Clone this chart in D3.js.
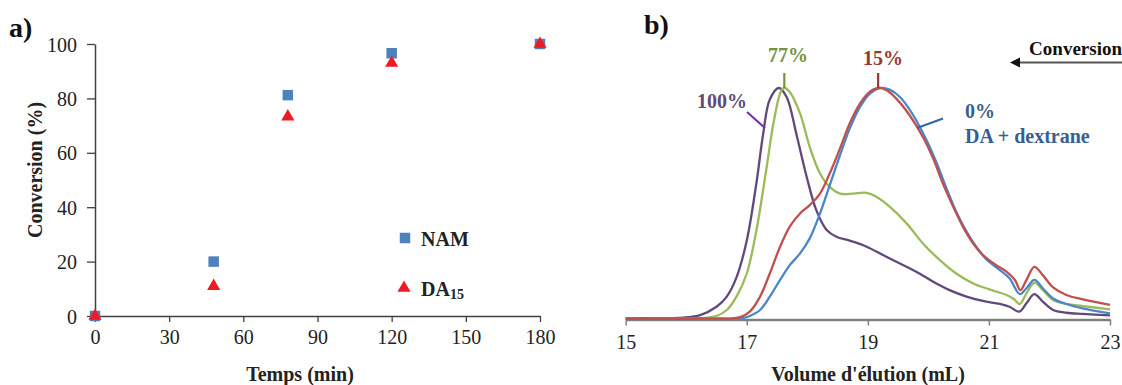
<!DOCTYPE html>
<html>
<head>
<meta charset="utf-8">
<script src="https://cdn.jsdelivr.net/npm/d3@7"></script>
<style>
  html, body { margin: 0; padding: 0; background: #fff; }
  svg { display: block; font-family: "Liberation Serif", "Times New Roman", serif; }
</style>
</head>
<body>
<svg id="chart" width="1122" height="385"></svg>
<script>
// ---------- Panel a data ----------
const timeTicks = [0, 30, 60, 90, 120, 150, 180];
const convTicks = [0, 20, 40, 60, 80, 100];
const namTimes = [0, 48, 78, 120, 180];
const namConv = [0, 20, 81.2, 96.6, 100];
const daTimes = [0, 48, 78, 120, 180];
const daConv = [0, 11, 73.3, 93, 100];

// ---------- Panel b data (volume mL, normalized signal) ----------
const volTicks = [15, 17, 19, 21, 23];
const purpleVol = [15, 15.5, 15.95, 16.23, 16.5, 16.67, 16.83, 17.0, 17.16, 17.27, 17.38, 17.53, 17.66, 17.82, 17.99, 18.15, 18.32, 18.48, 18.7, 18.98, 19.25, 19.53, 19.8, 20.08, 20.35, 20.63, 20.9, 21.18, 21.34, 21.5, 21.62, 21.75, 21.89, 22.06, 22.28, 22.55, 23.0];
const purpleSig = [0.004, 0.004, 0.006, 0.017, 0.053, 0.097, 0.18, 0.34, 0.59, 0.8, 0.95, 1.0, 0.96, 0.8, 0.615, 0.47, 0.385, 0.356, 0.339, 0.313, 0.277, 0.24, 0.205, 0.161, 0.125, 0.097, 0.078, 0.065, 0.053, 0.032, 0.068, 0.108, 0.075, 0.039, 0.027, 0.022, 0.016];
const greenVol = [15, 15.5, 16.0, 16.23, 16.5, 16.67, 16.83, 17.0, 17.16, 17.33, 17.44, 17.57, 17.62, 17.71, 17.88, 18.04, 18.21, 18.37, 18.54, 18.76, 18.98, 19.14, 19.36, 19.64, 19.91, 20.19, 20.46, 20.74, 21.01, 21.29, 21.4, 21.51, 21.62, 21.75, 21.89, 22.06, 22.28, 22.55, 23.0];
const greenSig = [0.001, 0.001, 0.002, 0.004, 0.013, 0.039, 0.097, 0.197, 0.385, 0.66, 0.846, 0.99, 1.0, 0.983, 0.89, 0.745, 0.63, 0.572, 0.543, 0.543, 0.546, 0.529, 0.486, 0.414, 0.327, 0.255, 0.197, 0.154, 0.128, 0.104, 0.089, 0.065, 0.111, 0.157, 0.125, 0.082, 0.065, 0.056, 0.042];
const redVol = [15, 15.5, 16.0, 16.5, 16.77, 16.89, 17.05, 17.22, 17.38, 17.55, 17.71, 17.88, 18.04, 18.21, 18.37, 18.54, 18.7, 18.87, 19.03, 19.17, 19.31, 19.47, 19.69, 19.91, 20.08, 20.24, 20.41, 20.57, 20.74, 20.9, 21.12, 21.29, 21.43, 21.52, 21.62, 21.75, 21.89, 22.06, 22.28, 22.55, 23.0];
const redSig = [0.001, 0.001, 0.001, 0.002, 0.003, 0.008, 0.032, 0.097, 0.197, 0.313, 0.4, 0.457, 0.493, 0.543, 0.63, 0.738, 0.846, 0.932, 0.983, 1.0, 0.99, 0.954, 0.882, 0.788, 0.695, 0.586, 0.486, 0.4, 0.327, 0.277, 0.233, 0.205, 0.169, 0.125, 0.169, 0.226, 0.19, 0.137, 0.104, 0.085, 0.061];
const blueVol = [15, 15.5, 16.0, 16.5, 16.94, 17.05, 17.22, 17.38, 17.55, 17.71, 17.88, 18.04, 18.21, 18.37, 18.54, 18.7, 18.87, 19.03, 19.2, 19.36, 19.53, 19.75, 19.97, 20.14, 20.3, 20.46, 20.63, 20.79, 20.96, 21.18, 21.34, 21.51, 21.62, 21.75, 21.89, 22.06, 22.28, 22.55, 23.0];
const blueSig = [0.001, 0.001, 0.001, 0.002, 0.004, 0.013, 0.039, 0.097, 0.169, 0.233, 0.284, 0.349, 0.457, 0.579, 0.709, 0.824, 0.918, 0.975, 1.0, 0.993, 0.961, 0.882, 0.774, 0.673, 0.565, 0.464, 0.378, 0.313, 0.258, 0.212, 0.176, 0.108, 0.133, 0.169, 0.133, 0.089, 0.065, 0.046, 0.024];

const svg = d3.select("#chart");

// ================= Panel a =================
const xa = d3.scaleLinear().domain([0, 180]).range([95, 540]);
const ya = d3.scaleLinear().domain([0, 100]).range([316, 44]);
const axisColA = "#404040";

const gxa = svg.append("g").attr("transform", `translate(0,${ya(0)})`)
  .call(d3.axisBottom(xa).tickValues(timeTicks).tickSize(6).tickSizeOuter(0).tickPadding(8));
const gya = svg.append("g").attr("transform", `translate(${xa(0)},0)`)
  .call(d3.axisLeft(ya).tickValues(convTicks).tickSize(8).tickSizeOuter(0).tickPadding(10));
[gxa, gya].forEach(g => {
  g.select(".domain").attr("stroke", axisColA).attr("stroke-width", 1.5);
  g.selectAll(".tick line").attr("stroke", axisColA).attr("stroke-width", 1.3);
  g.selectAll(".tick text").attr("fill", "#222").attr("font-size", 20)
    .attr("font-family", "Liberation Serif, Times New Roman, serif");
});
gya.selectAll(".tick text").attr("dy", "0.35em");

const sq = d3.symbol().type(d3.symbolSquare).size(110);
const tri = d3.symbol().type(d3.symbolTriangle).size(75);

svg.append("g").selectAll("path").data(namTimes.map((t, i) => [t, namConv[i]]))
  .join("path").attr("d", sq)
  .attr("transform", d => `translate(${xa(d[0])},${ya(d[1])})`)
  .attr("fill", "#4f81bd");
svg.append("g").selectAll("path").data(daTimes.map((t, i) => [t, daConv[i]]))
  .join("path").attr("d", tri)
  .attr("transform", d => `translate(${xa(d[0])},${ya(d[1])})`)
  .attr("fill", "#ed1c24");

// legend
svg.append("path").attr("d", sq).attr("transform", "translate(405,238)").attr("fill", "#4f81bd");
svg.append("text").attr("x", 421).attr("y", 246).attr("font-size", 20).attr("font-weight", "bold")
  .attr("fill", "#222").text("NAM");
svg.append("path").attr("d", tri).attr("transform", "translate(404,288)").attr("fill", "#ed1c24");
const daTxt = svg.append("text").attr("x", 421).attr("y", 296).attr("font-size", 20)
  .attr("font-weight", "bold").attr("fill", "#222");
daTxt.append("tspan").text("DA");
daTxt.append("tspan").attr("font-size", 14).attr("dy", 3).text("15");

// titles
svg.append("text").attr("x", 300).attr("y", 381).attr("text-anchor", "middle")
  .attr("font-size", 20).attr("font-weight", "bold").attr("fill", "#222").text("Temps (min)");
svg.append("text").attr("transform", "translate(42,170) rotate(-90)").attr("text-anchor", "middle")
  .attr("font-size", 20).attr("font-weight", "bold").attr("fill", "#222").text("Conversion (%)");
svg.append("text").attr("x", 9).attr("y", 37).attr("font-size", 28).attr("font-weight", "bold")
  .attr("fill", "#111").text("a)");

// ================= Panel b =================
const xb = d3.scaleLinear().domain([15, 23]).range([625.7, 1110]);
const yb = d3.scaleLinear().domain([0, 1]).range([319, 88]);
const axisColB = "#7f7f7f";

const gxb = svg.append("g").attr("transform", `translate(0,${yb(0) + 0.5})`)
  .call(d3.axisBottom(xb).tickValues(volTicks).tickFormat(d3.format("d")).tickSize(6).tickSizeOuter(0).tickPadding(9));
gxb.select(".domain").attr("stroke", axisColB).attr("stroke-width", 2.5);
gxb.selectAll(".tick line").attr("stroke", axisColB).attr("stroke-width", 1.5);
gxb.selectAll(".tick text").attr("fill", "#222").attr("font-size", 20)
  .attr("font-family", "Liberation Serif, Times New Roman, serif");

const line = d3.line().x(d => xb(d[0])).y(d => yb(d[1])).curve(d3.curveCatmullRom.alpha(0.5));
const series = [
  { vol: purpleVol, sig: purpleSig, color: "#604a7b" },
  { vol: greenVol, sig: greenSig, color: "#9bbb59" },
  { vol: blueVol, sig: blueSig, color: "#4a86c8" },
  { vol: redVol, sig: redSig, color: "#c0504d" }
];
svg.append("g").selectAll("path").data(series).join("path")
  .attr("d", s => line(s.vol.map((v, i) => [v, s.sig[i]])))
  .attr("fill", "none").attr("stroke", s => s.color).attr("stroke-width", 2.3);

// annotations
svg.append("line").attr("x1", xb(17.62)).attr("x2", xb(17.62)).attr("y1", yb(1.0)).attr("y2", yb(1.065))
  .attr("stroke", "#77933c").attr("stroke-width", 2.2);
svg.append("line").attr("x1", xb(19.17)).attr("x2", xb(19.17)).attr("y1", yb(1.0)).attr("y2", yb(1.065))
  .attr("stroke", "#953735").attr("stroke-width", 2.2);
svg.append("line").attr("x1", 747).attr("y1", 112).attr("x2", 765).attr("y2", 128)
  .attr("stroke", "#7030a0").attr("stroke-width", 2);
svg.append("line").attr("x1", 917).attr("y1", 128).attr("x2", 943).attr("y2", 118.5)
  .attr("stroke", "#2e6aa8").attr("stroke-width", 2.2);

svg.append("text").attr("x", 788).attr("y", 62).attr("text-anchor", "middle").attr("font-size", 20)
  .attr("font-weight", "bold").attr("fill", "#77933c").text("77%");
svg.append("text").attr("x", 883).attr("y", 65).attr("text-anchor", "middle").attr("font-size", 20)
  .attr("font-weight", "bold").attr("fill", "#953735").text("15%");
svg.append("text").attr("x", 747).attr("y", 108).attr("text-anchor", "end").attr("font-size", 20)
  .attr("font-weight", "bold").attr("fill", "#604a7b").text("100%");
svg.append("text").attr("x", 965).attr("y", 118).attr("font-size", 20)
  .attr("font-weight", "bold").attr("fill", "#376092").text("0%");
svg.append("text").attr("x", 965).attr("y", 143).attr("font-size", 20)
  .attr("font-weight", "bold").attr("fill", "#376092").text("DA + dextrane");

// Conversion arrow
svg.append("line").attr("x1", 1122).attr("y1", 62.5).attr("x2", 1018).attr("y2", 62.5)
  .attr("stroke", "#555").attr("stroke-width", 2);
svg.append("path").attr("d", "M1010,62.5 L1020,57.5 L1020,67.5 Z").attr("fill", "#111");
svg.append("text").attr("x", 1122).attr("y", 55).attr("text-anchor", "end").attr("font-size", 19)
  .attr("font-weight", "bold").attr("fill", "#111").text("Conversion");

svg.append("text").attr("x", 868).attr("y", 381).attr("text-anchor", "middle")
  .attr("font-size", 20).attr("font-weight", "bold").attr("fill", "#222").text("Volume d'élution (mL)");
svg.append("text").attr("x", 644).attr("y", 34).attr("font-size", 28).attr("font-weight", "bold")
  .attr("fill", "#111").text("b)");
</script>
</body>
</html>
